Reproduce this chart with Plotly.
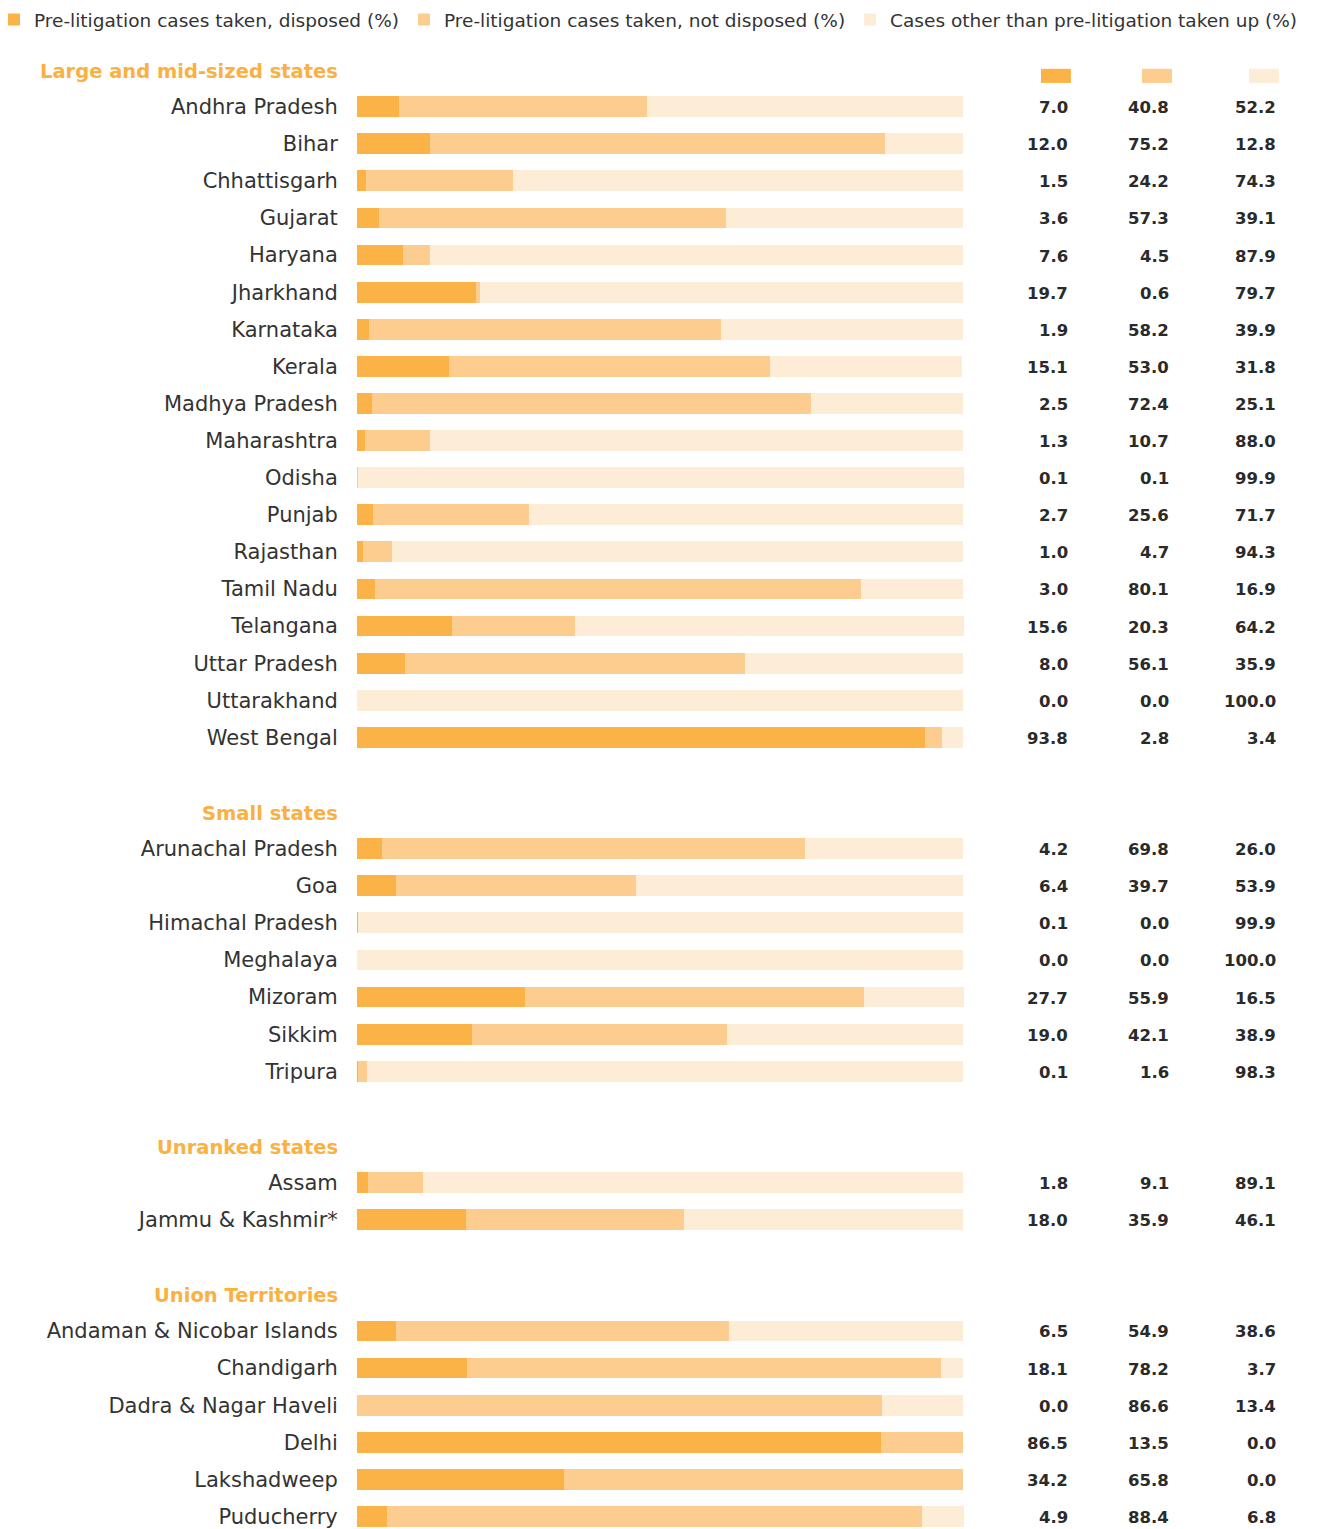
import plotly.graph_objects as go

# ---- data -----------------------------------------------------------------
large_states = ["Andhra Pradesh", "Bihar", "Chhattisgarh", "Gujarat", "Haryana", "Jharkhand",
                "Karnataka", "Kerala", "Madhya Pradesh", "Maharashtra", "Odisha", "Punjab",
                "Rajasthan", "Tamil Nadu", "Telangana", "Uttar Pradesh", "Uttarakhand", "West Bengal"]
large_disposed = [7.0, 12.0, 1.5, 3.6, 7.6, 19.7, 1.9, 15.1, 2.5, 1.3, 0.1, 2.7, 1.0, 3.0, 15.6, 8.0, 0.0, 93.8]
large_not_disposed = [40.8, 75.2, 24.2, 57.3, 4.5, 0.6, 58.2, 53.0, 72.4, 10.7, 0.1, 25.6, 4.7, 80.1, 20.3, 56.1, 0.0, 2.8]
large_other = [52.2, 12.8, 74.3, 39.1, 87.9, 79.7, 39.9, 31.8, 25.1, 88.0, 99.9, 71.7, 94.3, 16.9, 64.2, 35.9, 100.0, 3.4]

small_states = ["Arunachal Pradesh", "Goa", "Himachal Pradesh", "Meghalaya", "Mizoram", "Sikkim", "Tripura"]
small_disposed = [4.2, 6.4, 0.1, 0.0, 27.7, 19.0, 0.1]
small_not_disposed = [69.8, 39.7, 0.0, 0.0, 55.9, 42.1, 1.6]
small_other = [26.0, 53.9, 99.9, 100.0, 16.5, 38.9, 98.3]

unranked_states = ["Assam", "Jammu & Kashmir*"]
unranked_disposed = [1.8, 18.0]
unranked_not_disposed = [9.1, 35.9]
unranked_other = [89.1, 46.1]

union_territories = ["Andaman & Nicobar Islands", "Chandigarh", "Dadra & Nagar Haveli", "Delhi",
                     "Lakshadweep", "Puducherry"]
ut_disposed = [6.5, 18.1, 0.0, 86.5, 34.2, 4.9]
ut_not_disposed = [54.9, 78.2, 86.6, 13.5, 65.8, 88.4]
ut_other = [38.6, 3.7, 13.4, 0.0, 0.0, 6.8]

group_titles = ["Large and mid-sized states", "Small states", "Unranked states", "Union Territories"]
series_names = ["Pre-litigation cases taken, disposed (%)",
                "Pre-litigation cases taken, not disposed (%)",
                "Cases other than pre-litigation taken up (%)"]

# ---- styling ----------------------------------------------------------------
COLORS = ["#FBB247", "#FDCD8F", "#FDEDD6"]
HEADER_COLOR = "#FBB040"
TEXT_COLOR = "#333333"
NUM_COLOR = "#2a2a2a"
FONT = "DejaVu Sans"

groups = [
    (group_titles[0], large_states, large_disposed, large_not_disposed, large_other),
    (group_titles[1], small_states, small_disposed, small_not_disposed, small_other),
    (group_titles[2], unranked_states, unranked_disposed, unranked_not_disposed, unranked_other),
    (group_titles[3], union_territories, ut_disposed, ut_not_disposed, ut_other),
]

# Lay out rows: a header slot per group, then its rows, then one empty slot.
names, ypos, header_pos = [], [], []
vals = [[], [], []]
slot = 0
for title, states, a, b, c in groups:
    header_pos.append((title, slot))
    slot += 1
    for i, s in enumerate(states):
        names.append(s)
        ypos.append(slot)
        vals[0].append(a[i]); vals[1].append(b[i]); vals[2].append(c[i])
        slot += 1
    slot += 1

W, H = 1327, 1529
BAR_PX = 606                    # pixel width of 100 %
PITCH = 37.1                    # pixel height of one slot
ML = 357
MT = round(107 - 1.5 * PITCH)   # first state row centred near the top
plot_w = W - ML
plot_h = H - MT
x_max = 100 * plot_w / BAR_PX
y_bottom = -0.5 + plot_h / PITCH

fig = go.Figure()
for k in range(3):
    fig.add_trace(go.Bar(
        y=ypos, x=vals[k], orientation="h", name=series_names[k],
        marker=dict(color=COLORS[k], line=dict(width=0)),
        width=0.56, hoverinfo="x+name",
    ))

# value columns on the right
col_x = [(1070 - ML) / BAR_PX * 100, (1171 - ML) / BAR_PX * 100, (1278 - ML) / BAR_PX * 100]
annotations = []
for k in range(3):
    for yv, v in zip(ypos, vals[k]):
        annotations.append(dict(
            x=col_x[k], y=yv, xref="x", yref="y", text=f"<b>{v:.1f}</b>",
            xanchor="right", yanchor="middle", showarrow=False, yshift=-1,
            font=dict(family=FONT, size=16.5, color=NUM_COLOR)))

# group headers
for title, s in header_pos:
    annotations.append(dict(
        x=0, y=s, xref="paper", yref="y", text=f"<b>{title}</b>",
        xanchor="right", yanchor="middle", showarrow=False, xshift=-17, yshift=-2,
        font=dict(family=FONT, size=19.5, color=HEADER_COLOR)))

# small colour keys above each value column
shapes = []
sw_w = 29 / BAR_PX * 100
for k in range(3):
    shapes.append(dict(
        type="rect", xref="x", yref="y",
        x0=col_x[k] - sw_w, x1=col_x[k] + 0.15,
        y0=header_pos[0][1] - 0.02, y1=header_pos[0][1] + 0.36,
        fillcolor=COLORS[k], line=dict(width=0), layer="above"))

fig.update_layout(
    width=W, height=H,
    margin=dict(l=ML, r=0, t=MT, b=0, autoexpand=False),
    paper_bgcolor="white", plot_bgcolor="white",
    barmode="stack", bargap=0,
    font=dict(family=FONT, color=TEXT_COLOR),
    showlegend=True,
    legend=dict(orientation="h",
                x=(-6 - ML) / plot_w, y=1 + (MT - 1) / plot_h,
                xanchor="left", yanchor="top",
                font=dict(family=FONT, size=18.5, color=TEXT_COLOR),
                traceorder="normal", bgcolor="rgba(0,0,0,0)"),
    xaxis=dict(range=[0, x_max], visible=False, fixedrange=True),
    yaxis=dict(range=[y_bottom, -0.5], tickmode="array", tickvals=ypos, ticktext=names,
               showgrid=False, zeroline=False, showline=False,
               ticks="outside", ticklen=14, tickcolor="rgba(0,0,0,0)",
               tickfont=dict(family=FONT, size=21, color=TEXT_COLOR), fixedrange=True),
    annotations=annotations,
    shapes=shapes,
)

fig.write_html("out.html")
